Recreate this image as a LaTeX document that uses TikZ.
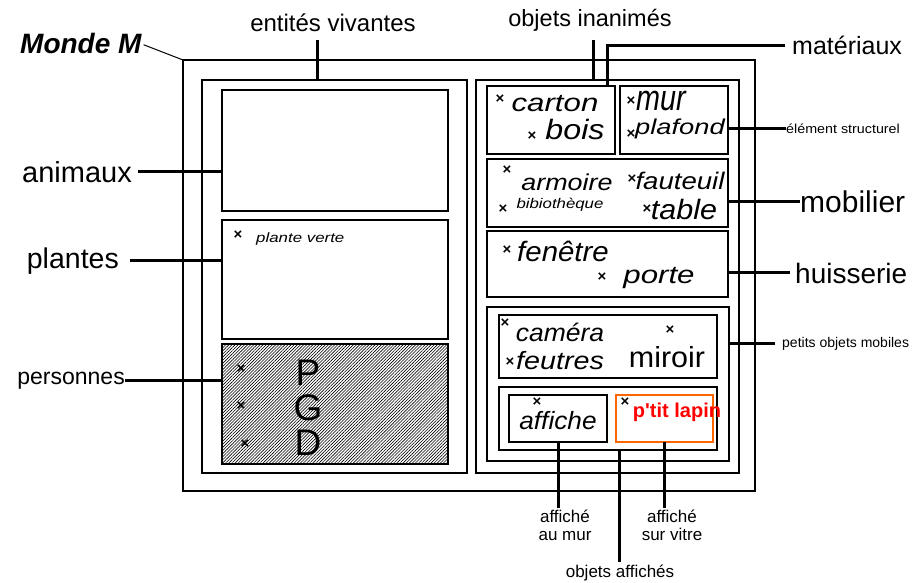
\documentclass[tikz,border=0pt]{standalone}
\usepackage{fontspec}
\setmainfont{Liberation Sans}
\usepackage{graphicx}
\usetikzlibrary{patterns.meta}

\definecolor{orangecadre}{HTML}{FF6600}
\definecolor{rougelapin}{HTML}{FF0000}
\newcommand{\etire}[2]{\scalebox{#1}[1]{#2}}

\tikzset{
    boite/.style={draw, line width=2.4pt, inner sep=0pt, outer sep=0pt, anchor=north west},
    lien/.style={line width=3pt},
    fin/.style={line width=1pt},
    etiq/.style={inner sep=0pt, font=\fontsize{#1}{#1}\selectfont},
    mot/.style={inner sep=0pt, font=\itshape\fontsize{#1}{#1}\selectfont},
    croix/.style={inner sep=0pt, font=\bfseries\fontsize{15}{15}\selectfont}
}

\begin{document}
\begin{tikzpicture}[x=1pt, y=-1pt]

                \useasboundingbox (0,0) rectangle (915,583);

                \node[boite, minimum width=572pt, minimum height=431pt] (monde) at (183,60) {};
                \node[boite, minimum width=265pt, minimum height=393pt] (vivantes) at (202,80) {};
                \node[boite, minimum width=263pt, minimum height=393pt] (inanimes) at (476,80) {};

                \node[boite, minimum width=226pt, minimum height=121pt] (animaux) at (222,90) {};
                \node[boite, minimum width=226pt, minimum height=119pt] (plantes) at (222,220) {};
                \node[boite, minimum width=226pt, minimum height=120pt,
                      pattern={Lines[angle=45, distance=2.2pt, line width=0.6pt]}] (personnes) at (222,344) {};

                \node[boite, minimum width=128pt, minimum height=68pt] (materiaux) at (487,86) {};
                \node[boite, minimum width=108pt, minimum height=68pt] (structurel) at (620,86) {};
                \node[boite, minimum width=241pt, minimum height=68pt] (mobilier) at (487,159) {};
                \node[boite, minimum width=241pt, minimum height=66pt] (huisserie) at (487,231) {};
                \node[boite, minimum width=242pt, minimum height=154pt] (petits) at (487,307) {};
                \node[boite, minimum width=218pt, minimum height=63pt] (mobiles) at (499,315) {};
                \node[boite, minimum width=218pt, minimum height=63pt] (affiches) at (499,387) {};
                \node[boite, minimum width=98pt, minimum height=47pt] (affiche) at (509,395) {};
                \node[boite, draw=orangecadre, minimum width=97pt, minimum height=47pt] (lapin) at (616,395) {};

                \node[croix] (x-plante) at (238,235) {×};
                \node[mot=13.5, anchor=west] (plante) at (256,239) {\etire{1.25}{plante verte}};

                \node[croix] (x-p) at (241,369) {×};
                \node[croix] (x-g) at (241,406) {×};
                \node[croix] (x-d) at (245,444) {×};
                \node[etiq=37] (p) at (308,373) {P};
                \node[etiq=37] (g) at (308,408) {G};
                \node[etiq=37] (d) at (308,443) {D};

                \node[croix] (x-carton) at (500,99) {×};
                \node[mot=25] (carton) at (555,104) {\etire{1.25}{carton}};
                \node[croix] (x-bois) at (532,136) {×};
                \node[mot=28] (bois) at (575,129) {\etire{1.15}{bois}};
                \node[croix] (x-mur) at (631,101) {×};
                \node[mot=36] (mur) at (661,101) {\etire{0.8}{mur}};
                \node[croix] (x-plafond) at (631,134) {×};
                \node[mot=21.5] (plafond) at (680,129) {\etire{1.27}{plafond}};

                \node[croix] (x-armoire) at (507,170) {×};
                \node[mot=23] (armoire) at (567,182) {\etire{1.17}{armoire}};
                \node[croix] (x-fauteuil) at (632,179) {×};
                \node[mot=24] (fauteuil) at (680,181) {\etire{1.15}{fauteuil}};
                \node[croix] (x-biblio) at (503,209) {×};
                \node[mot=14] (biblio) at (560,205) {\etire{1.2}{bibiothèque}};
                \node[croix] (x-table) at (647,209) {×};
                \node[mot=28] (table) at (684,209) {\etire{1.09}{table}};

                \node[croix] (x-fenetre) at (507,250) {×};
                \node[mot=28] (fenetre) at (563,251) {\etire{1.05}{fenêtre}};
                \node[croix] (x-porte) at (602,277) {×};
                \node[mot=25] (porte) at (659,278) {\etire{1.25}{porte}};

                \node[croix] (x-camera) at (505,323) {×};
                \node[mot=25] (camera) at (560,332) {\etire{1.06}{caméra}};
                \node[croix] (x-feutres) at (510,362) {×};
                \node[mot=25] (feutres) at (560,361) {\etire{1.15}{feutres}};
                \node[croix] (x-miroir) at (670,330) {×};
                \node[etiq=29] (miroir) at (667,357) {\etire{1.05}{miroir}};

                \node[croix] (x-affiche) at (537,402) {×};
                \node[mot=25] (affiche-txt) at (558,421) {\etire{1.05}{affiche}};
                \node[croix] (x-lapin) at (625,402) {×};
                \node[etiq=20, font=\bfseries\fontsize{20}{20}\selectfont, text=rougelapin] (lapin-txt) at (677,412) {p\textquotesingle tit lapin};

                \node[inner sep=0pt, font=\bfseries\itshape\fontsize{28}{28}\selectfont, anchor=base west] (lab-monde) at (20,54) {Monde M};
                \node[etiq=24, anchor=base] (lab-vivantes) at (333,32) {entités vivantes};
                \node[etiq=23.5, anchor=base] (lab-inanimes) at (590,27) {objets inanimés};
                \node[etiq=25, anchor=base west] (lab-materiaux) at (792,55) {matériaux};
                \node[etiq=13, anchor=base west] (lab-structurel) at (786,133) {\etire{1.1}{élément structurel}};
                \node[etiq=30, anchor=base west] (lab-mobilier) at (800,212) {mobilier};
                \node[etiq=28, anchor=base west] (lab-huisserie) at (795,283) {huisserie};
                \node[etiq=14, anchor=base west] (lab-petits) at (782,347) {petits objets mobiles};
                \node[etiq=29, anchor=base east] (lab-animaux) at (132,182) {animaux};
                \node[etiq=28.5, anchor=base east] (lab-plantes) at (119,268) {plantes};
                \node[etiq=23, anchor=base east] (lab-personnes) at (125,384) {personnes};
                \node[inner sep=0pt, font=\fontsize{17}{18}\selectfont, align=center, anchor=north] (lab-aumur) at (565,510) {affiché\\au mur};
                \node[inner sep=0pt, font=\fontsize{17}{18}\selectfont, align=center, anchor=north] (lab-vitre) at (672,510) {affiché\\sur vitre};
                \node[etiq=17, anchor=base] (lab-affiches) at (620,577) {objets affichés};

                \coordinate (v-haut) at (317,40);
                \coordinate (i-haut) at (593,40);

                \draw[fin, shorten <=2pt] (lab-monde.east) -- (monde.north west);
                \draw[lien] (v-haut) -- (v-haut |- vivantes.north);
                \draw[lien] (i-haut) -- (i-haut |- inanimes.north);
                \draw[lien, shorten <=7pt] (lab-materiaux.west) -| ([xshift=-8pt]materiaux.north east);
                \draw[lien] (lab-structurel.west) -- (lab-structurel.west -| structurel.east);
                \draw[lien] (lab-mobilier.west) -- (lab-mobilier.west -| mobilier.east);
                \draw[lien, shorten <=5pt] (lab-huisserie.west) -- (lab-huisserie.west -| huisserie.east);
                \draw[lien, shorten <=7pt] (lab-petits.west) -- (lab-petits.west -| petits.east);
                \draw[lien, shorten <=6pt] (lab-animaux.east) -- (lab-animaux.east -| animaux.west);
                \draw[lien, shorten <=11pt] (lab-plantes.east) -- (lab-plantes.east -| plantes.west);
                \draw[lien] (lab-personnes.east) -- (lab-personnes.east -| personnes.west);
                \draw[lien, shorten >=2pt] (affiche.south) -- (affiche.south |- lab-aumur.north);
                \draw[lien, shorten >=2pt] (lapin.south) -- (lapin.south |- lab-vitre.north);
                \draw[lien, shorten >=2pt] ([xshift=11pt]affiches.south) -- ([xshift=11pt]affiches.south |- lab-affiches.north);

\end{tikzpicture}
\end{document}
